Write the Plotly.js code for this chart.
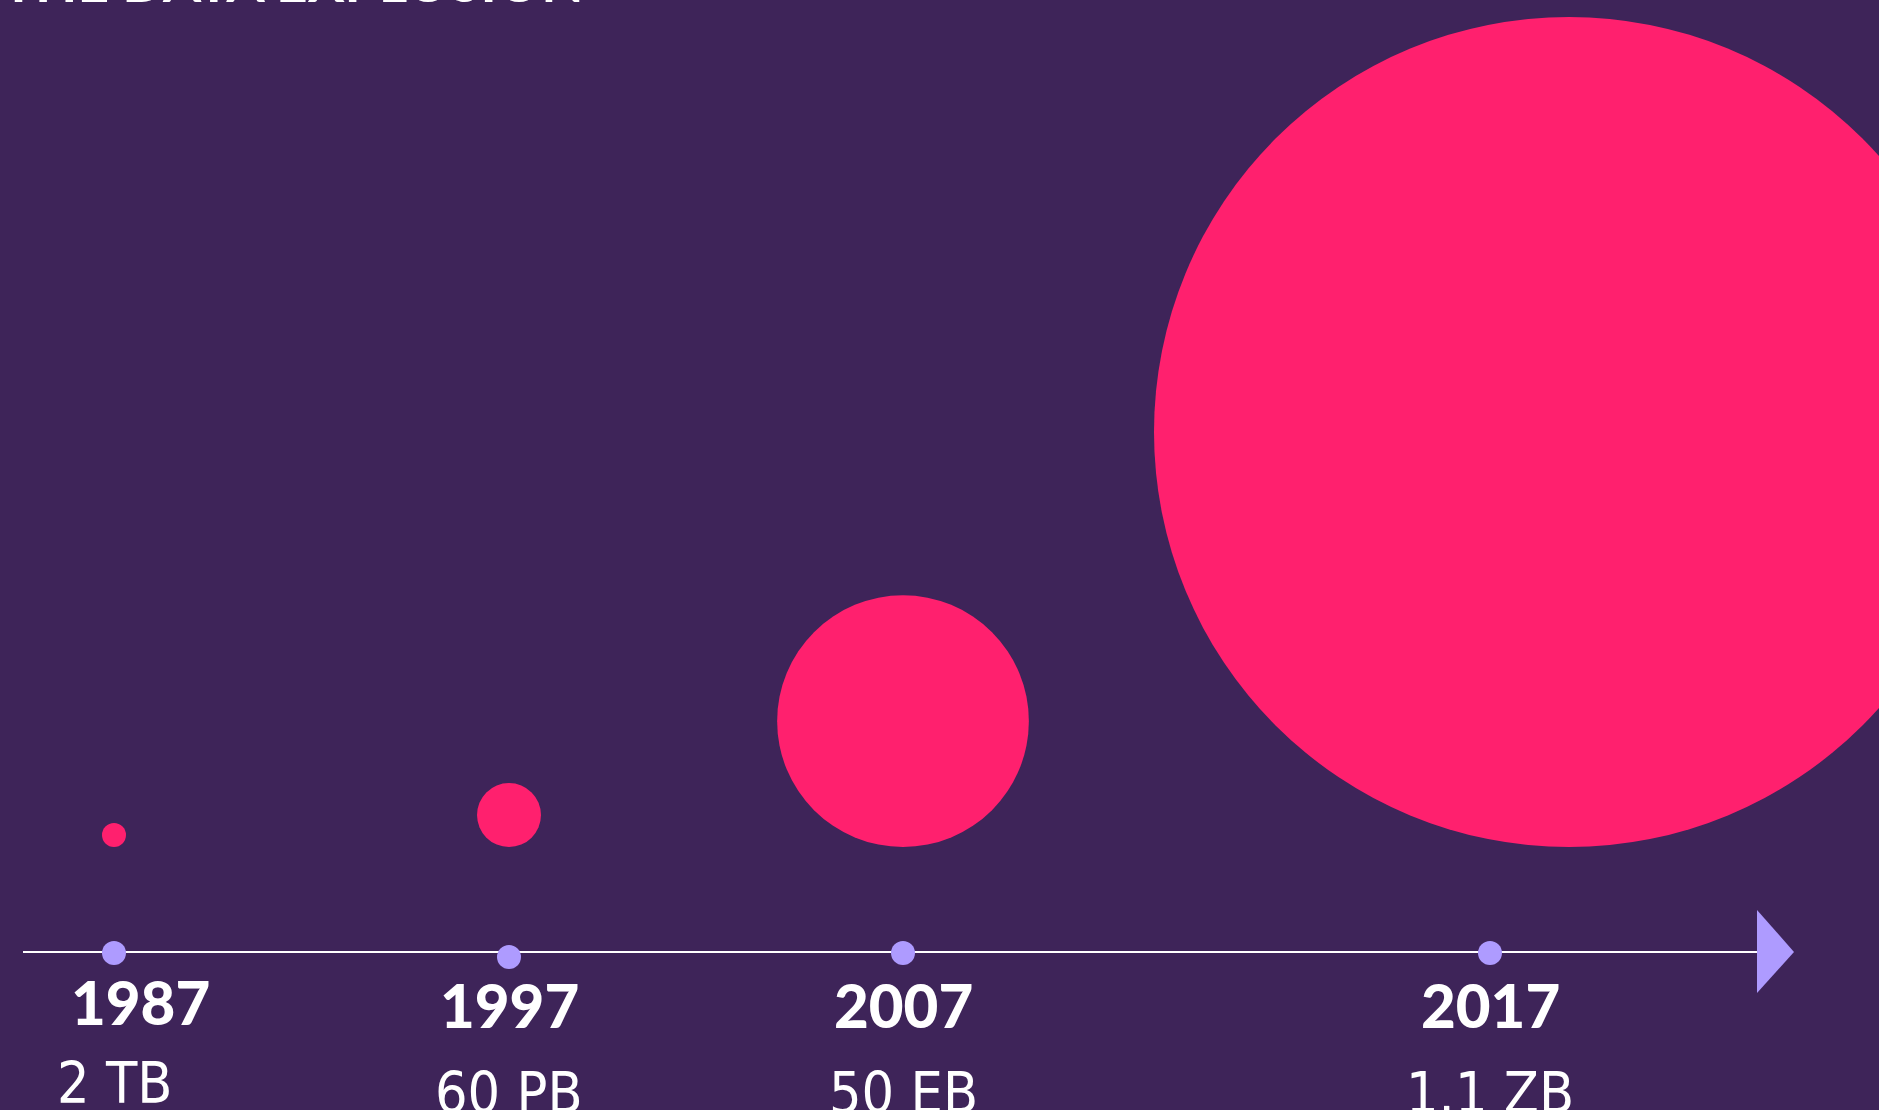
<!DOCTYPE html>
<html>
<head>
<meta charset="utf-8">
<script src="https://cdn.plot.ly/plotly-3.0.1.min.js"></script>
<style>
  html, body { margin: 0; padding: 0; background: #3E2459; }
  #chart { width: 1879px; height: 1110px; }
</style>
</head>
<body>
<div id="chart"></div>
<script>
// ---------------- DATA ----------------
const years = ['1987', '1997', '2007', '2017'];
const volumeLabels = ['2 TB', '60 PB', '50 EB', '1.1 ZB'];
// relative bubble areas as drawn (1987 = 1)
const relativeArea = [1, 7.1, 110, 1196];
const titleText = 'THE DATA EXPLOSION';

// ---------------- LAYOUT CONFIG ----------------
const W = 1879, H = 1110;
const BG = '#3E2459', PINK = '#FF206E', LAV = '#AE9BFF';
const slotX = [114, 509, 903, 1490];      // timeline slot per year (px)
const bubbleDx = [0, 0, 0, 79];           // bubble horizontal offset from slot
const baseArea = 576;                     // px^2 for area = 1
const bubbleBaseline = 847;               // bubbles sit on this line
const axisY = 952;
const dotDy = [0, 4, 0, 0];
const yearDx = [26, 0, 0, 0], yearDy = [-3, 0, 0, 0];
const valDy = [-10, 0, 0, 0];

const diam = relativeArea.map(a => Math.sqrt(a * baseArea));
const bubbleX = slotX.map((x, i) => x + bubbleDx[i]);
const bubbleY = diam.map(d => bubbleBaseline - d / 2);

const bubbles = {
  type: 'scatter', mode: 'markers',
  x: bubbleX, y: bubbleY,
  marker: { size: relativeArea, sizemode: 'area', sizeref: 2 / baseArea, sizemin: 0,
            color: PINK, line: { width: 0 }, opacity: 1 },
  hoverinfo: 'skip', cliponaxis: true
};
const dots = {
  type: 'scatter', mode: 'markers',
  x: slotX, y: slotX.map((_, i) => axisY + 1 + dotDy[i]),
  marker: { size: 24, color: LAV, line: { width: 0 } },
  hoverinfo: 'skip', cliponaxis: false
};

const annotations = [];
years.forEach((yr, i) => {
  annotations.push({
    x: slotX[i], y: 1005 + yearDy[i], xref: 'x', yref: 'y',
    text: yr, showarrow: false, xanchor: 'center', yanchor: 'middle',
    xshift: yearDx[i],
    font: { family: 'Lato, "Open Sans", sans-serif', size: 60, weight: 900, color: '#FFFFFF' }
  });
  annotations.push({
    x: slotX[i], y: 1093 + valDy[i], xref: 'x', yref: 'y',
    text: volumeLabels[i], showarrow: false, xanchor: 'center', yanchor: 'middle',
    font: { family: '"Liberation Sans Narrow", "DejaVu Sans Condensed", sans-serif', size: 57, color: '#FFFFFF' }
  });
});
annotations.push({
  x: 0, y: 16, xref: 'x', yref: 'y', text: '<b>' + titleText + '</b>',
  showarrow: false, xanchor: 'left', yanchor: 'bottom',
  font: { family: 'Lato, "Open Sans", sans-serif', size: 55, color: '#FFFFFF' }
});

const shapes = [
  { type: 'line', xref: 'x', yref: 'y', x0: 23, x1: 1757, y0: axisY, y1: axisY,
    line: { color: '#FFFFFF', width: 2 }, layer: 'below' },
  { type: 'path', xref: 'x', yref: 'y',
    path: 'M 1757 910 L 1794 952 L 1757 993 Z', fillcolor: LAV, line: { width: 0 } }
];

const layout = {
  width: W, height: H,
  margin: { l: 0, r: 0, t: 0, b: 0, pad: 0 },
  paper_bgcolor: BG, plot_bgcolor: BG,
  showlegend: false,
  xaxis: { range: [0, W], visible: false, fixedrange: true },
  yaxis: { range: [H, 0], visible: false, fixedrange: true },
  shapes: shapes,
  annotations: annotations
};

Plotly.newPlot('chart', [bubbles, dots], layout, { staticPlot: true, displayModeBar: false });
</script>
</body>
</html>
